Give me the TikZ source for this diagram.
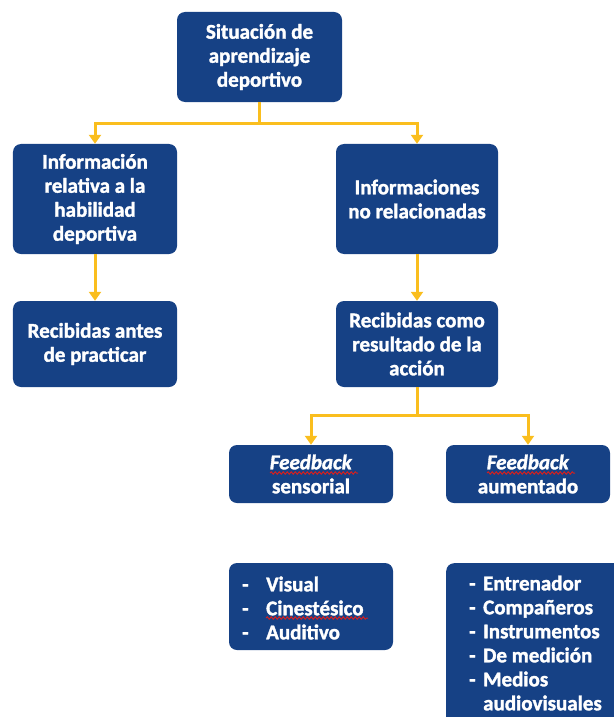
\documentclass[tikz,border=0pt]{standalone}
\usepackage{fontspec}
\setmainfont{Carlito}[BoldFeatures={FakeBold=1.6},BoldItalicFeatures={FakeBold=1.6}]
\usetikzlibrary{arrows.meta,decorations.pathmorphing,calc}
\definecolor{boxblue}{HTML}{164185}
\definecolor{lineyellow}{HTML}{FABE1E}
\definecolor{wavered}{HTML}{D22020}
\begin{document}
\begin{tikzpicture}[x=1bp,y=-1bp,
  box/.style={fill=boxblue, rounded corners=8bp, text=white,
    font=\bfseries\fontsize{21bp}{24bp}\selectfont, align=center, inner sep=0pt},
  listtext/.style={text=white, font=\bfseries\fontsize{21bp}{24bp}\selectfont,
    align=left, inner sep=0pt, anchor=west},
  conn/.style={draw=lineyellow, line width=3bp, -{Triangle[width=12bp,length=9bp]}},
  wavy/.style={draw=wavered, line width=1bp, decorate,
    decoration={snake, amplitude=1.2bp, segment length=4bp}}]
\path[use as bounding box] (0,0) rectangle (614,717);
\clip (0,0) rectangle (614,717);

\node[box, minimum width=165bp, minimum height=90bp] (b1) at (259.5,57) {Situación de\\aprendizaje\\deportivo};
\node[box, minimum width=164bp, minimum height=110bp] (b2) at (95,199) {Información\\relativa a la\\habilidad\\deportiva};
\node[box, minimum width=162bp, minimum height=110bp] (b3) at (417,199) {Informaciones\\no relacionadas};
\node[box, minimum width=164bp, minimum height=86bp] (b4) at (95,344) {Recibidas antes\\de practicar};
\node[box, minimum width=162bp, minimum height=86bp] (b5) at (417,344) {Recibidas como\\resultado de la\\acción};
\node[box, minimum width=164bp, minimum height=58bp] (b6) at (311,474) {\textit{Feedback}\\sensorial};
\node[box, minimum width=164bp, minimum height=58bp] (b7) at (528,474) {\textit{Feedback}\\aumentado};
\node[box, minimum width=164bp, minimum height=87bp] (b8) at (311,606.5) {};
\node[box, minimum width=184bp, minimum height=180bp, anchor=north west] (b9) at (446,563) {};

\node[listtext] (l8) at (242,608) {\makebox[24bp][l]{-}Visual\\\makebox[24bp][l]{-}Cinestésico\\\makebox[24bp][l]{-}Auditivo};
\node[listtext] (l9) at (469,643) {\makebox[14bp][l]{-}Entrenador\\\makebox[14bp][l]{-}Compañeros\\\makebox[14bp][l]{-}Instrumentos\\\makebox[14bp][l]{-}De medición\\\makebox[14bp][l]{-}Medios\\\hspace*{14bp}audiovisuales};

\draw[wavy] ($(b6.center)+(-41,-1)$) -- ($(b6.center)+(47,-1)$);
\draw[wavy] ($(b7.center)+(-41,-1)$) -- ($(b7.center)+(47,-1)$);
\draw[wavy] ($(l8.west)+(24,10)$) -- ($(l8.west)+(126,10)$);

\coordinate (j1) at ($(b1.south)+(0,21)$);
\draw[conn] (b1.south) -- (j1) -| (b2.north);
\draw[conn] (j1) -| (b3.north);
\draw[conn] (b2.south) -- (b4.north);
\draw[conn] (b3.south) -- (b5.north);
\coordinate (j2) at ($(b5.south)+(0,28)$);
\draw[conn] (b5.south) -- (j2) -| (b6.north);
\draw[conn] (j2) -| (b7.north);
\end{tikzpicture}
\end{document}
